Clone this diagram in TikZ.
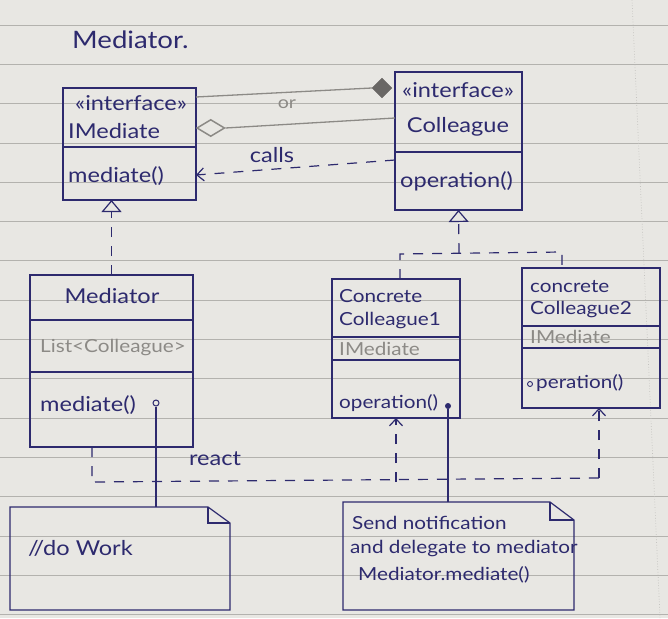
\documentclass[tikz,border=0pt]{standalone}
\usepackage{fontspec}
\setmainfont{Lato}[FakeStretch=1.15]
\usetikzlibrary{arrows.meta,shapes.geometric,calc}
\definecolor{ink}{HTML}{2D2A6E}
\definecolor{paper}{HTML}{E8E7E3}
\definecolor{ruling}{HTML}{B3B2AE}
\definecolor{pencil}{HTML}{8C8A86}
\begin{document}
\begin{tikzpicture}[x=1pt,y=-1pt,
  umlbox/.style={draw=ink, line width=1.2pt, rectangle, inner sep=0pt, outer sep=0pt, anchor=north west},
  notebox/.style={rectangle, inner sep=0pt, outer sep=0pt, anchor=north west},
  divider/.style={draw=ink, line width=1.2pt},
  lbl/.style={text=ink, inner sep=0pt, font=\fontsize{20.5}{22}\selectfont},
  small/.style={text=ink, inner sep=0pt, font=\fontsize{18}{20}\selectfont},
  grey/.style={text=pencil, inner sep=0pt, font=\fontsize{18}{20}\selectfont},
  conn/.style={draw=ink, line width=1.2pt},
  dep/.style={draw=ink, line width=1.2pt, dash pattern=on 10pt off 9pt},
  aggline/.style={draw=pencil, line width=1.3pt},
  openhead/.style={-{Straight Barb[length=7pt,width=13pt,line width=1.2pt]}},
  realize/.style={-{Triangle[open,length=12pt,width=20pt,line width=1.2pt]}},
]
% paper
\fill[paper] (0,0) rectangle (668,618);
\useasboundingbox (0,0) rectangle (668,618);
\foreach \k in {0,...,15}
  \draw[ruling, line width=0.8pt] (0,25+39.3*\k) -- (668,25+39.3*\k);
\draw[ruling!80, line width=0.7pt, dotted] (632,0) -- (660,618);

% title
\node[text=ink, inner sep=0pt, anchor=west, font=\fontsize{24}{26}\selectfont] (title) at (72,40) {Mediator.};

% interface IMediate
\node[umlbox, minimum width=133pt, minimum height=112pt] (imed) at (63,88) {};
\draw[divider] (63,147) -- (196,147);
\node[lbl] (imedst) at (131,103) {«interface»};
\node[lbl, anchor=west] (imedname) at (68,131) {IMediate};
\node[lbl, anchor=west] (imedop) at (68,176) {mediate()};

% interface Colleague
\node[umlbox, minimum width=127pt, minimum height=138pt] (coll) at (395,72) {};
\draw[divider] (395,152) -- (522,152);
\node[lbl] (collst) at (458,90) {«interface»};
\node[lbl] (collname) at (458,127) {Colleague};
\node[lbl, anchor=west] (collop) at (400,181) {operation()};

% class Mediator
\node[umlbox, minimum width=163pt, minimum height=172pt] (med) at (30,275) {};
\draw[divider] (30,320) -- (193,320);
\draw[divider] (30,372) -- (193,372);
\node[lbl] (medname) at (112,296) {Mediator};
\node[grey, anchor=west] (medlist) at (40,348) {List<Colleague>};
\node[lbl, anchor=west] (medop) at (40,405) {mediate()};
\node[circle, draw=ink, line width=1pt, minimum size=6pt, inner sep=0pt] (medport) at (156,403) {};

% class ConcreteColleague1
\node[umlbox, minimum width=128pt, minimum height=139pt] (cc1) at (332,279) {};
\draw[divider] (332,337) -- (460,337);
\draw[divider] (332,360) -- (460,360);
\node[small, anchor=west] (cc1a) at (339,296) {Concrete};
\node[small, anchor=west] (cc1b) at (339,321) {Colleague1};
\node[grey, anchor=west] (cc1attr) at (339,349) {IMediate};
\node[small, anchor=west] (cc1op) at (339,403) {operation()};
\node[circle, fill=ink, minimum size=6pt, inner sep=0pt] (cc1port) at (448,406) {};

% class ConcreteColleague2
\node[umlbox, minimum width=138pt, minimum height=140pt] (cc2) at (522,268) {};
\draw[divider] (522,326) -- (660,326);
\draw[divider] (522,348) -- (660,348);
\node[small, anchor=west] (cc2a) at (530,287) {concrete};
\node[small, anchor=west] (cc2b) at (530,310) {Colleague2};
\node[grey, anchor=west] (cc2attr) at (530,337) {IMediate};
\node[circle, draw=ink, line width=0.9pt, minimum size=5pt, inner sep=0pt] (cc2port) at (530,384) {};
\node[small, anchor=west] (cc2op) at (536,383) {peration()};

% notes with folded corner
\node[notebox, minimum width=220pt, minimum height=103pt] (note1) at (10,507) {};
\draw[conn] (note1.north west) -- ([xshift=-22pt]note1.north east) -- ([yshift=-16pt]note1.north east)
  -- (note1.south east) -- (note1.south west) -- cycle;
\draw[conn] ([xshift=-22pt]note1.north east) |- ([yshift=-16pt]note1.north east);
\node[lbl, anchor=west] (note1txt) at (28,548) {//do Work};

\node[notebox, minimum width=231pt, minimum height=108pt] (note2) at (343,502) {};
\draw[conn] (note2.north west) -- ([xshift=-24pt]note2.north east) -- ([yshift=-18pt]note2.north east)
  -- (note2.south east) -- (note2.south west) -- cycle;
\draw[conn] ([xshift=-24pt]note2.north east) |- ([yshift=-18pt]note2.north east);
\node[small, anchor=west] (note2a) at (352,523) {Send notification};
\node[small, anchor=west] (note2b) at (350,549) {and delegate to mediator};
\node[small, anchor=west] (note2c) at (358,575) {Mediator.mediate()};

% aggregation between the interfaces
\node[diamond, aspect=1, fill=pencil!75!black, draw=pencil!75!black, minimum width=20pt, minimum height=20pt, inner sep=0pt] (fdia) at (382,88) {};
\draw[aggline] (fdia.west) -- ([yshift=-9pt]imed.north east);
\node[diamond, aspect=1.6, draw=pencil, line width=1.5pt, minimum width=28pt, minimum height=17pt, inner sep=0pt, anchor=west] (hdia) at (imed.east |- 0,128) {};
\draw[aggline] (hdia.east) -- ([yshift=23pt]coll.west);
\node[text=pencil, inner sep=0pt, font=\fontsize{17}{19}\selectfont] (orlbl) at (287,104) {or};

% calls
\draw[dep, openhead] ([yshift=-19pt]coll.west) -- ([yshift=-31pt]imed.east);
\node[lbl] (callslbl) at (272,155) {calls};

% realizations
\draw[dep, realize] (med.north) -- (med.north |- imed.south);
\coordinate (j0) at (459,253);
\coordinate (j1) at (400,254);
\coordinate (j2) at (562,252);
\draw[dep, realize] (j0) -- (coll.south);
\draw[dep] (j1 |- cc1.north) -- (j1) -- (j2) -- (j2 |- cc2.north);

% react
\coordinate (r0) at (92,482);
\coordinate (r1) at (599,478);
\draw[dep] (r0 |- med.south) -- (r0) -- (r1);
\draw[dep, openhead] (cc1.south |- r0) -- (cc1.south);
\draw[dep, openhead] (r1) -- (r1 |- cc2.south);
\node[lbl] (reactlbl) at (215,459) {react};

% links to the notes
\draw[conn] (medport) -- (medport |- note1.north);
\draw[conn] (cc1port) -- (cc1port |- note2.north);
\end{tikzpicture}
\end{document}
